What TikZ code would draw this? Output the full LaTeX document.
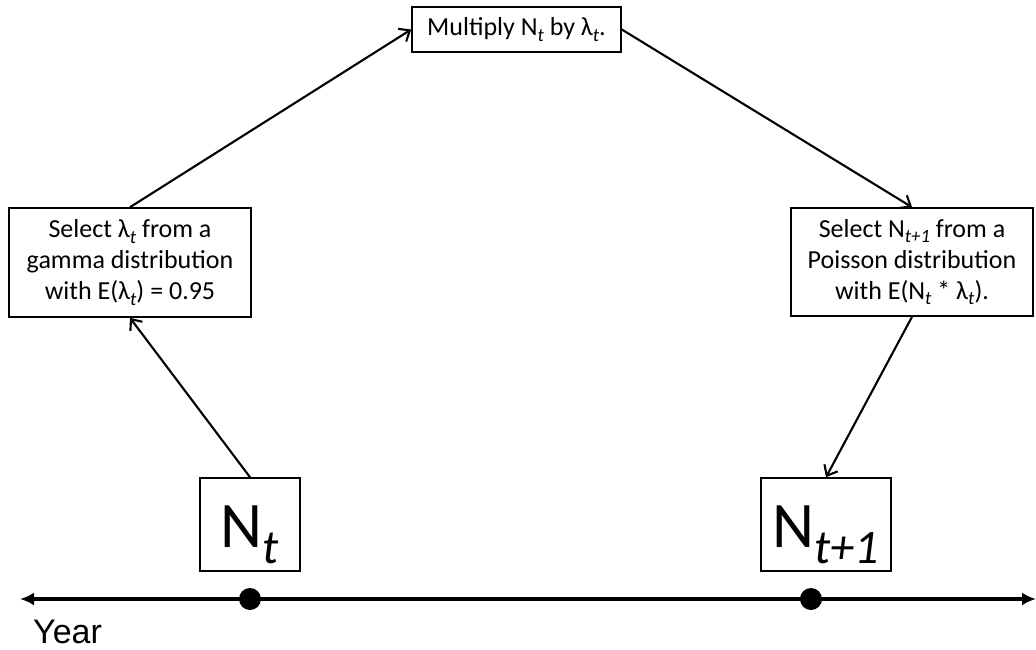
\documentclass[tikz,border=0pt]{standalone}
\usepackage{fontspec}
\setmainfont{Carlito}
\newfontfamily\arialf{Liberation Sans}
\usetikzlibrary{arrows.meta}
\makeatletter
\newcommand{\sub}[1]{\raisebox{-0.2em}{\fontsize{\fpeval{0.72*\f@size}}{0}\selectfont\itshape #1}}
\newcommand{\bsub}[1]{\raisebox{-0.25em}{\fontsize{\fpeval{0.74*\f@size}}{0}\selectfont\itshape #1}}
\makeatother
\begin{document}
\begin{tikzpicture}[x=1pt,y=-1pt,
  box/.style={draw, line width=1.6pt, inner sep=0pt, align=center, font=\fontsize{26}{31}\selectfont},
  bigbox/.style={draw, line width=1.6pt, inner sep=0pt, align=center, text height=60pt, text depth=15pt, font=\fontsize{65}{70}\selectfont},
  conn/.style={line width=2.1pt, -{Straight Barb[length=9pt,width=15pt,line width=2.1pt]}},
  axis/.style={line width=4pt, {Latex[length=14pt,width=13pt]}-{Latex[length=14pt,width=13pt]}},
  dot/.style={circle, fill=black, minimum size=22pt, inner sep=0pt}]
\useasboundingbox (0,0) rectangle (1036,650);
\node[box, minimum width=209pt, minimum height=45pt] (top) at (516.5,29.5) {Multiply N\sub{t} by λ\sub{t}.};
\node[box, minimum width=242pt, minimum height=109pt] (left) at (130,262.5) {Select λ\sub{t} from a\\gamma distribution\\with E(λ\sub{t}) = 0.95};
\node[box, minimum width=242pt, minimum height=108pt] (right) at (912,262) {Select N\sub{t+1} from a\\Poisson distribution\\with E(N\sub{t} * λ\sub{t}).};
\node[bigbox, minimum width=100pt, minimum height=93pt] (nt) at (250,524.5) {N\bsub{t}};
\node[bigbox, minimum width=130pt, minimum height=93pt] (ntp) at (826,524.5) {N\bsub{t+1}};
\coordinate (axl) at (20,599);
\coordinate (axr) at (1036,599);
\draw[axis] (axl) -- (axr);
\node[dot] (d1) at (250,599) {};
\node[dot] (d2) at (811,599) {};
\node[font=\arialf\fontsize{34}{40}\selectfont, anchor=base west, inner sep=0pt] (year) at (33,643) {Year};
\draw[conn] (nt.north) -- (left.south);
\draw[conn] (left.north) -- (top.west);
\draw[conn] (top.east) -- (right.north);
\draw[conn] (right.south) -- (ntp.north);
\end{tikzpicture}
\end{document}
